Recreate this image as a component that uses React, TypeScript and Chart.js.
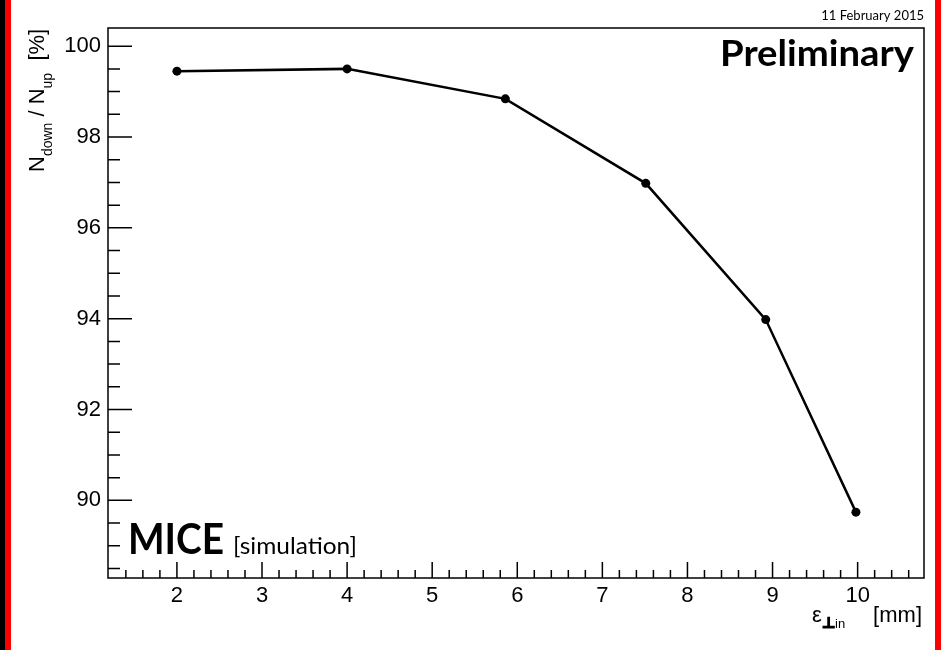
import React, { useEffect, useRef } from "react";
import { Chart, registerables } from "chart.js";

Chart.register(...registerables);

// ---- data ----
const emittance = [2.0, 4.0, 5.86, 7.51, 8.92, 9.98];
const transmission = [99.45, 99.5, 98.84, 96.98, 93.98, 89.74];
const xTicks = [2, 3, 4, 5, 6, 7, 8, 9, 10];
const yTicks = [90, 92, 94, 96, 98, 100];
const xRange = [1.19, 10.78];
const yRange = [88.29, 100.4];
const xMinorStep = 0.2;
const yMinorStep = 0.5;
const dateLabel = "11 February 2015";
const prelimLabel = "Preliminary";
const expLabel = "MICE";
const simLabel = "[simulation]";

const HELV = '"Liberation Sans", Arial, Helvetica, sans-serif';
const HUM = 'Lato, "Open Sans", sans-serif';

function fitText(ctx: CanvasRenderingContext2D, text: string, x: number, y: number, width: number) {
  const w = ctx.measureText(text).width;
  ctx.save();
  ctx.translate(x, y);
  ctx.scale(width / w, 1);
  ctx.textAlign = "left";
  ctx.fillText(text, 0, 0);
  ctx.restore();
}

const framePlugin = {
  id: "rootFrame",
  beforeDraw(chart: any) {
    const ctx: CanvasRenderingContext2D = chart.ctx;
    const W = chart.width, H = chart.height;
    ctx.save();
    ctx.fillStyle = "#fff";
    ctx.fillRect(0, 0, W, H);
    ctx.fillStyle = "#000";
    ctx.fillRect(0, 0, 5, H);
    ctx.fillStyle = "#f00";
    ctx.fillRect(5, 0, 6, H);
    ctx.fillRect(935, 0, W - 935, H);
    ctx.restore();
  },
  afterDraw(chart: any) {
    const ctx: CanvasRenderingContext2D = chart.ctx;
    const { left, right, top, bottom } = chart.chartArea;
    const xs = chart.scales.x;
    const ys = chart.scales.y;
    ctx.save();
    ctx.strokeStyle = "#000";
    ctx.lineWidth = 1.5;
    ctx.strokeRect(left, top, right - left, bottom - top);

    ctx.beginPath();
    // x ticks
    const xStart = Math.ceil(xRange[0] / xMinorStep) * xMinorStep;
    for (let v = xStart; v <= xRange[1] + 1e-9; v += xMinorStep) {
      const r = Math.round(v * 10) / 10;
      const px = xs.getPixelForValue(r);
      if (px <= left + 1 || px >= right - 1) continue;
      const major = Math.abs(r - Math.round(r)) < 1e-6;
      const len = major ? 16 : 8;
      ctx.moveTo(px, bottom);
      ctx.lineTo(px, bottom - len);
    }
    // y ticks
    const yStart = Math.ceil(yRange[0] / yMinorStep) * yMinorStep;
    for (let v = yStart; v <= yRange[1] + 1e-9; v += yMinorStep) {
      const r = Math.round(v * 10) / 10;
      const py = ys.getPixelForValue(r);
      if (py <= top + 1 || py >= bottom - 1) continue;
      const major = Math.abs(r / 2 - Math.round(r / 2)) < 1e-6;
      const len = major ? 24 : 12;
      ctx.moveTo(left, py);
      ctx.lineTo(left + len, py);
    }
    ctx.stroke();

    ctx.fillStyle = "#000";
    ctx.textBaseline = "alphabetic";

    // date
    ctx.font = `13px ${HUM}`;
    ctx.textAlign = "right";
    ctx.fillText(dateLabel, 924, 20);

    // Preliminary
    ctx.font = `bold 37px ${HUM}`;
    fitText(ctx, prelimLabel, 720, 66, 194);

    // MICE [simulation]
    ctx.font = `bold 42px ${HUM}`;
    fitText(ctx, expLabel, 128, 554, 96);
    ctx.font = `23px ${HUM}`;
    fitText(ctx, simLabel, 233, 554, 124);

    // y-axis title (rotated)
    ctx.save();
    ctx.translate(44, 172);
    ctx.rotate(-Math.PI / 2);
    ctx.textAlign = "left";
    let cx = 0;
    const piece = (t: string, font: string, dy: number) => {
      ctx.font = font;
      ctx.fillText(t, cx, dy);
      cx += ctx.measureText(t).width;
    };
    const big = `22px ${HELV}`;
    const small = `14px ${HELV}`;
    piece("N", big, 0);
    piece("down", small, 8);
    piece(" / ", big, 0);
    piece("N", big, 0);
    piece("up", small, 8);
    piece("  [%]", big, 0);
    ctx.restore();

    // x-axis title
    ctx.textAlign = "right";
    ctx.font = `22px ${HELV}`;
    ctx.fillText("[mm]", 922, 622);
    ctx.textAlign = "left";
    ctx.font = `22px ${HELV}`;
    ctx.fillText("\u03b5", 812, 622);
    ctx.font = `bold 15px "DejaVu Sans", sans-serif`;
    ctx.lineWidth = 1.2;
    ctx.strokeText("\u22a5", 822, 628);
    ctx.fillText("\u22a5", 822, 628);
    ctx.font = `13px ${HELV}`;
    ctx.fillText("in", 835, 628);

    ctx.restore();
  },
};

export default function App() {
  const ref = useRef<HTMLCanvasElement | null>(null);
  useEffect(() => {
    if (!ref.current) return;
    const chart = new Chart(ref.current, {
      type: "scatter",
      data: {
        datasets: [
          {
            data: emittance.map((x, i) => ({ x, y: transmission[i] })),
            showLine: true,
            borderColor: "#000",
            backgroundColor: "#000",
            borderWidth: 2.5,
            pointRadius: 4.5,
            pointBorderWidth: 0,
            pointHoverRadius: 4.5,
          },
        ],
      },
      options: {
        responsive: false,
        animation: false,
        devicePixelRatio: 1,
        events: [],
        layout: { padding: { top: 28, right: 17, left: 0, bottom: 0 } },
        plugins: { legend: { display: false }, tooltip: { enabled: false } },
        scales: {
          x: {
            type: "linear",
            min: xRange[0],
            max: xRange[1],
            grid: { display: false, drawTicks: false, tickLength: 0 },
            border: { display: false },
            afterFit: (s: any) => {
              s.height = 72;
            },
            afterBuildTicks: (s: any) => {
              s.ticks = xTicks.map((v) => ({ value: v }));
            },
            ticks: {
              font: { family: HELV, size: 22 },
              color: "#000",
              padding: 5,
              maxRotation: 0,
              autoSkip: false,
              callback: (v: any) => String(v),
            },
          },
          y: {
            type: "linear",
            min: yRange[0],
            max: yRange[1],
            grid: { display: false, drawTicks: false, tickLength: 0 },
            border: { display: false },
            afterFit: (s: any) => {
              s.width = 108;
            },
            afterBuildTicks: (s: any) => {
              s.ticks = yTicks.map((v) => ({ value: v }));
            },
            ticks: {
              font: { family: HELV, size: 22 },
              color: "#000",
              padding: 7,
              autoSkip: false,
              callback: (v: any) => String(v),
            },
          },
        },
      },
      plugins: [framePlugin],
    } as any);
    return () => chart.destroy();
  }, []);
  return (
    <div style={{ position: "fixed", left: 0, top: 0, width: 941, height: 650 }}>
      <canvas ref={ref} width={941} height={650} style={{ display: "block" }} />
    </div>
  );
}
